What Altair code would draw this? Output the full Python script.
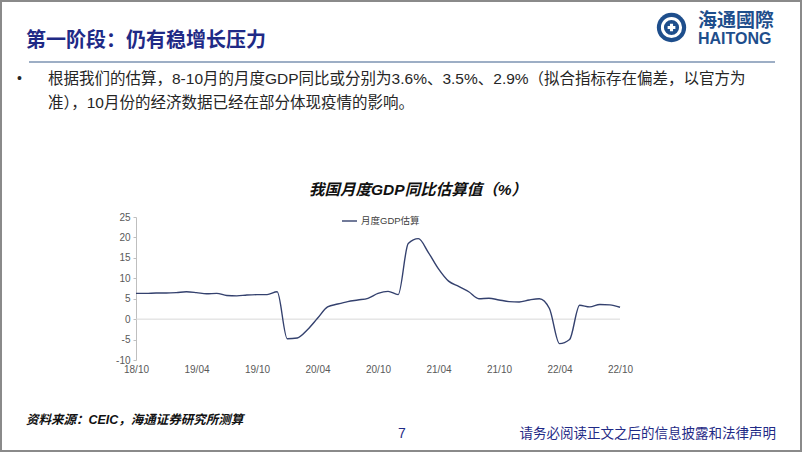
import altair as alt
import pandas as pd

# ---------------- data ----------------
months = [
    "18/10", "18/11", "18/12",
    "19/01", "19/02", "19/03", "19/04", "19/05", "19/06",
    "19/07", "19/08", "19/09", "19/10", "19/11", "19/12",
    "20/01", "20/02", "20/03", "20/04", "20/05", "20/06",
    "20/07", "20/08", "20/09", "20/10", "20/11", "20/12",
    "21/01", "21/02", "21/03", "21/04", "21/05", "21/06",
    "21/07", "21/08", "21/09", "21/10", "21/11", "21/12",
    "22/01", "22/02", "22/03", "22/04", "22/05", "22/06",
    "22/07", "22/08", "22/09", "22/10",
]
gdp = [
    6.3, 6.3, 6.4,
    6.4, 6.5, 6.7, 6.5, 6.2, 6.3,
    5.8, 5.7, 5.9, 6.0, 6.0, 6.7,
    -4.8, -4.6, -2.6, 0.2, 3.0, 3.7,
    4.3, 4.7, 5.1, 6.3, 6.8, 6.0,
    18.5, 19.7, 16.3, 12.3, 9.3, 8.0,
    6.7, 5.0, 5.1, 4.7, 4.3, 4.2,
    4.7, 5.0, 2.6, -6.0, -5.0, 3.4,
    3.0, 3.6, 3.5, 2.9,
]
x_labels = ["18/10", "19/04", "19/10", "20/04", "20/10", "21/04", "21/10", "22/04", "22/10"]
y_ticks = [-10, -5, 0, 5, 10, 15, 20, 25]
baseline_value = [0]
series_name = "月度GDP估算"

slide_title = "第一阶段：仍有稳增长压力"
bullet_line1 = "根据我们的估算，8-10月的月度GDP同比或分别为3.6%、3.5%、2.9%（拟合指标存在偏差，以官方为"
bullet_line2 = "准），10月份的经济数据已经在部分体现疫情的影响。"
chart_title = "我国月度GDP同比估算值（%）"
source_text = "资料来源：CEIC，海通证券研究所测算"
page_no = "7"
disclaimer = "请务必阅读正文之后的信息披露和法律声明"
logo_cn = "海通國際"
logo_en = "HAITONG"

# ---------------- layout ----------------
W, H = 484, 143          # plot area
L, T = 136, 217          # plot origin in the page
FONT = "Liberation Sans, Noto Sans CJK SC"
NAVY = "#1F2A86"
LOGO = "#1E4E8C"
LINE = "#34416E"

df = pd.DataFrame({"month": months, "gdp": gdp})
zero_df = pd.DataFrame({"gdp": baseline_value})
one = pd.DataFrame({"t": [""]})

x_enc = alt.X(
    "month:O", sort=None,
    scale=alt.Scale(type="point", padding=0),
    axis=alt.Axis(values=x_labels, title=None, labelAngle=0, ticks=False,
                  domain=False, labelFontSize=10, labelColor="#595959",
                  labelPadding=4, labelFont=FONT, labelFlush=False,
                  labelOverlap=False),
)
y_scale = alt.Scale(domain=[-10, 25], nice=False, zero=False)
y_axis = alt.Axis(values=y_ticks, title=None, grid=False, domainColor="#BFBFBF",
                  tickColor="#BFBFBF", tickSize=3, labelPadding=3,
                  labelFontSize=10, labelColor="#595959", labelFont=FONT,
                  labelOverlap=False, labelFlush=False, labelBound=False,
                  labelExpr="'' + datum.value")
y_enc = alt.Y("gdp:Q", scale=y_scale, axis=y_axis)

zero_rule = alt.Chart(zero_df).mark_rule(color="#D9D9D9", strokeWidth=1).encode(
    y=y_enc, x=alt.value(0), x2=alt.value(W)
)
line = alt.Chart(df).mark_line(
    color=LINE, strokeWidth=1.4, interpolate="monotone"
).encode(x=x_enc, y=y_enc)


def txt(s, x, y, size, color="#262626", weight="normal", style="normal",
        align="left", baseline="middle"):
    return alt.Chart(pd.DataFrame({"t": [s]})).mark_text(
        align=align, baseline=baseline, fontSize=size, fontWeight=weight,
        fontStyle=style, color=color, font=FONT
    ).encode(x=alt.value(x), y=alt.value(y), text="t:N")


border = alt.Chart(one).mark_rect(
    fillOpacity=0, stroke="#8A8A8A", strokeWidth=2
).encode(x=alt.value(-L + 1), x2=alt.value(802 - L - 1),
         y=alt.value(-T + 1), y2=alt.value(452 - T - 1))

title_rule = alt.Chart(one).mark_rule(color="#7D93B2", strokeWidth=1.5).encode(
    x=alt.value(29 - L), x2=alt.value(775 - L), y=alt.value(62 - T)
)

legend_rule = alt.Chart(one).mark_rule(color=LINE, strokeWidth=1.4).encode(
    x=alt.value(342 - L), x2=alt.value(357 - L), y=alt.value(221 - T)
)

# logo emblem
cx, cy = 671.5 - L, 27.5 - T
logo_disk = alt.Chart(one).mark_point(
    shape="circle", filled=True, size=860, color=LOGO, opacity=1
).encode(x=alt.value(cx), y=alt.value(cy))
logo_ring = alt.Chart(one).mark_point(
    shape="circle", filled=False, size=330, color="white", strokeWidth=3, opacity=1
).encode(x=alt.value(cx), y=alt.value(cy))
logo_core = alt.Chart(one).mark_point(
    shape="cross", filled=True, size=60, color="white", opacity=1
).encode(x=alt.value(cx), y=alt.value(cy))

layers = [
    border,
    title_rule,
    txt(slide_title, 26 - L, 41 - T, 20, color=NAVY, weight="bold"),
    logo_disk, logo_ring, logo_core,
    txt(logo_cn, 698 - L, 21 - T, 19, color=LOGO, weight="bold"),
    txt(logo_en, 698 - L, 38.5 - T, 16, color=LOGO, weight="bold"),
    txt("•", 17 - L, 79 - T, 14),
    txt(bullet_line1, 48 - L, 79 - T, 15.5),
    txt(bullet_line2, 48 - L, 103 - T, 15.5),
    txt(chart_title, 418 - L, 190 - T, 15.5, color="#111111", weight="bold",
        style="italic", align="center"),
    legend_rule,
    txt(series_name, 361 - L, 221 - T, 9.5, color="#404040"),
    zero_rule,
    line,
    txt(source_text, 26 - L, 420 - T, 12.5, color="#111111", weight="bold",
        style="italic"),
    txt(page_no, 402 - L, 434 - T, 14, color=NAVY, align="center"),
    txt(disclaimer, 776 - L, 434 - T, 13.5, color=NAVY, align="right"),
]

chart = alt.layer(*layers).properties(
    width=W, height=H,
    autosize=alt.AutoSizeParams(type="none"),
    padding={"left": L, "top": T, "right": 802 - L - W, "bottom": 452 - T - H},
    background="white",
).configure_view(strokeWidth=0)

chart.save("out.html", embed_options={"renderer": "svg", "actions": False})
